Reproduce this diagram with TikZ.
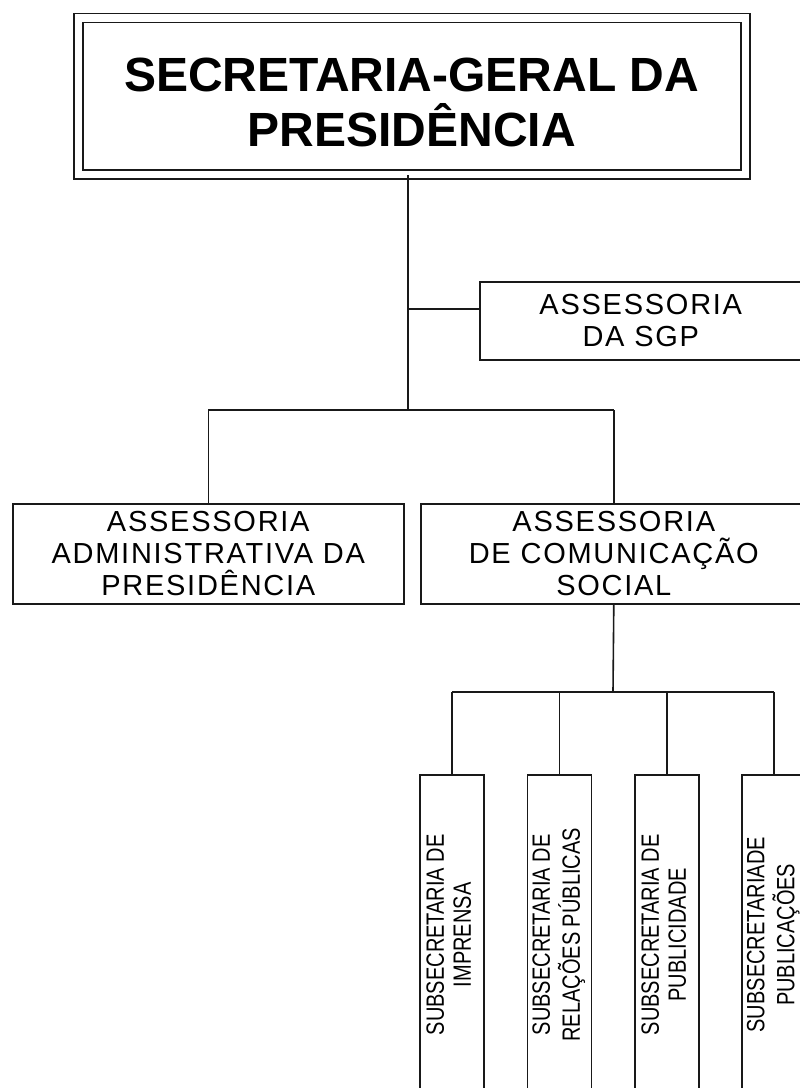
\documentclass[tikz,border=0pt]{standalone}
\usepackage{fontspec}
\usepackage{graphicx}
\setmainfont{Liberation Sans}
\newfontfamily\titlefont{Liberation Sans}
\newfontfamily\unitfont[LetterSpace=6]{Liberation Sans}
\newfontfamily\subunitfont[FakeStretch=0.8]{Liberation Sans}

% vertical two-line label for the narrow boxes
\newcommand{\vlabel}[2]{\rotatebox{90}{\subunitfont\fontsize{25}{27}\selectfont
  \begin{tabular}{@{}c@{}}#1\\#2\end{tabular}}}

\begin{document}
\begin{tikzpicture}[x=1pt,y=1pt,
  conn/.style={line width=1.6pt, black!90},
  headbox/.style={draw=black!90, line width=1.6pt, double, double distance=7.4pt,
    inner sep=0pt, align=center, minimum width=667pt, minimum height=156.5pt,
    font=\titlefont\bfseries\fontsize{48}{55}\selectfont},
  unitbox/.style={draw=black!90, line width=1.6pt, inner sep=0pt, align=center,
    font=\unitfont\fontsize{29}{32}\selectfont},
  subbox/.style={draw=black!90, line width=1.6pt, inner sep=0pt,
    minimum width=64pt, minimum height=320pt, anchor=north}]
\useasboundingbox (0,0) rectangle (800,-1088);
\clip (0,0) rectangle (800,-1088);

% head of the organisation
\node[headbox] (sgp) at (411.75,-96.25)
  {\rule{0pt}{46.5pt}SECRETARIA-GERAL DA\\PRESIDÊNCIA};

% staff office beside the trunk
\node[unitbox, minimum width=322pt, minimum height=78pt, anchor=north west]
  (asgp) at (479,-281) {ASSESSORIA\\DA SGP};

% second level
\node[unitbox, minimum width=391pt, minimum height=100pt, anchor=north west]
  (adm) at (12,-503) {ASSESSORIA\\ADMINISTRATIVA DA\\PRESIDÊNCIA};
\node[unitbox, minimum width=386pt, minimum height=100pt, anchor=north west]
  (com) at (420,-503) {ASSESSORIA\\DE COMUNICAÇÃO\\SOCIAL};

% subsecretariats
\node[subbox] (imp) at (452,-774) {\vlabel{SUBSECRETARIA DE}{IMPRENSA}};
\node[subbox] (rp)  at (559.5,-774) {\vlabel{SUBSECRETARIA DE}{RELAÇÕES PÚBLICAS}};
\node[subbox] (pub) at (667,-774) {\vlabel{SUBSECRETARIA DE}{PUBLICIDADE}};
\node[subbox] (pcs) at (774,-774) {\vlabel{SUBSECRETARIADE}{PUBLICAÇÕES}};

% connector junctions
\coordinate (trunk) at (408,-410);
\coordinate (side) at (408,-309);
\coordinate (busB) at (613,-692);

% trunk and first bus
\draw[conn] (sgp.south -| trunk) -- (trunk);
\draw[conn] (side) -- (side -| asgp.west);
\draw[conn] (adm.north |- trunk) -- (com.north |- trunk);
\draw[conn] (adm.north |- trunk) -- (adm.north);
\draw[conn] (com.north |- trunk) -- (com.north);

% second bus
\draw[conn] (com.south) -- (busB);
\draw[conn] (imp.north |- busB) -- (pcs.north |- busB);
\foreach \n in {imp,rp,pub,pcs}
  \draw[conn] (\n.north |- busB) -- (\n.north);
\end{tikzpicture}
\end{document}
